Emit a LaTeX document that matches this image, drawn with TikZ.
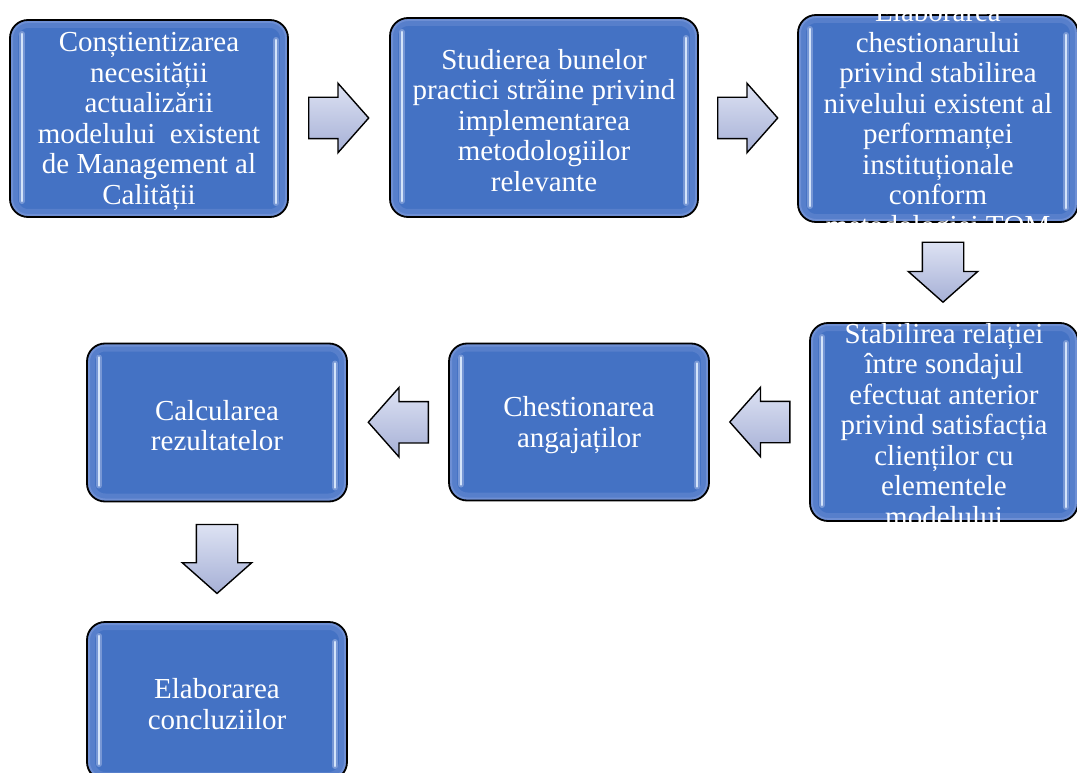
\documentclass[tikz,border=0pt]{standalone}
\usepackage{fontspec}
\setmainfont{Liberation Serif}
\usetikzlibrary{shapes.arrows,calc}

\definecolor{boxblue}{HTML}{4472C4}
\definecolor{glowblue}{HTML}{6E8FD4}
\definecolor{glossline}{HTML}{D4E4FA}
\definecolor{arrowtop}{HTML}{DDE2F3}
\definecolor{arrowbot}{HTML}{A6B0D6}

\tikzset{
  stepbox/.style={draw=black, line width=1.8pt, fill=boxblue, rounded corners=18pt, inner sep=0pt,
    path picture={
      \draw[glowblue!45!boxblue, line width=16pt, rounded corners=18pt]
        (path picture bounding box.south west) rectangle (path picture bounding box.north east);
      \draw[glowblue, line width=6pt, rounded corners=18pt]
        (path picture bounding box.south west) rectangle (path picture bounding box.north east);
      % the two light strokes inside the box
      \draw[glowblue!70!white, line width=6pt, line cap=round, opacity=0.6]
        ([xshift=12pt,yshift=-14pt]path picture bounding box.north west) -- ([xshift=12pt,yshift=16pt]path picture bounding box.south west)
        ([xshift=-12pt,yshift=-20pt]path picture bounding box.north east) -- ([xshift=-12pt,yshift=14pt]path picture bounding box.south east);
      \draw[glossline, line width=2.6pt, line cap=round]
        ([xshift=12pt,yshift=-14pt]path picture bounding box.north west) -- ([xshift=12pt,yshift=16pt]path picture bounding box.south west)
        ([xshift=-12pt,yshift=-20pt]path picture bounding box.north east) -- ([xshift=-12pt,yshift=14pt]path picture bounding box.south east);
    }},
  steptext/.style={text=white, align=center, inner sep=0pt, yshift=-3pt, font=\fontsize{29pt}{30.5pt}\selectfont},
  flowarrow/.style={single arrow, draw=black, line width=1.4pt, top color=arrowtop, bottom color=arrowbot,
    minimum height=60pt, inner xsep=0pt, inner ysep=20pt, anchor=tail,
    single arrow head extend=14pt, single arrow tip angle=97}
}

\begin{document}
\begin{tikzpicture}[x=1pt, y=-1pt]
  \useasboundingbox (0,0) rectangle (1077,773);

  % first row
  \node[stepbox, minimum width=278pt, minimum height=197pt,
    label={[steptext]center:Conștientizarea\\necesității\\actualizării\\modelului\ \ existent\\de Management al\\Calității}]
    (constientizare) at (149,118.5) {};
  \node[stepbox, minimum width=308pt, minimum height=199pt,
    label={[steptext]center:Studierea bunelor\\practici străine privind\\implementarea\\metodologiilor\\relevante}]
    (studiere) at (544,117.5) {};
  \node[stepbox, minimum width=280pt, minimum height=207pt,
    label={[steptext]center:Elaborarea\\chestionarului\\privind stabilirea\\nivelului existent al\\performanței\\instituționale\\conform\\metodologiei TQM}]
    (chestionar) at (938,118.5) {};

  % second row
  \node[stepbox, minimum width=268pt, minimum height=198pt,
    label={[steptext]center:Stabilirea relației\\între sondajul\\efectuat anterior\\privind satisfacția\\clienților cu\\elementele\\modelului}]
    (relatie) at (944,422) {};
  \node[stepbox, minimum width=260pt, minimum height=157pt,
    label={[steptext]center:Chestionarea\\angajaților}]
    (chestionare) at (579,422) {};
  \node[stepbox, minimum width=260pt, minimum height=158pt,
    label={[steptext]center:Calcularea\\rezultatelor}]
    (calcul) at (217,422.5) {};

  % last box
  \node[stepbox, minimum width=260pt, minimum height=158pt,
    label={[steptext]center:Elaborarea\\concluziilor}]
    (concluzii) at (217,701) {};

  % arrows (tail placed 30 before the middle of the gap)
  \node[flowarrow] (sageata1) at ($(constientizare.east)!0.5!(studiere.west)+(-31,0)$) {};
  \node[flowarrow] (sageata2) at ($(studiere.east)!0.5!(chestionar.west)+(-31,0)$) {};
  \node[flowarrow, rotate=-90] (sageata3) at ($(chestionar.south)!0.5!(relatie.north)+(2,-31)$) {};
  \node[flowarrow, rotate=180] (sageata4) at ($(relatie.west)!0.5!(chestionare.east)+(31,0)$) {};
  \node[flowarrow, rotate=180] (sageata5) at ($(chestionare.west)!0.5!(calcul.east)+(31,0)$) {};
  \node[flowarrow, rotate=-90, minimum height=69pt] (sageata6) at ($(calcul.south)!0.5!(concluzii.north)+(0,-38)$) {};
\end{tikzpicture}
\end{document}
